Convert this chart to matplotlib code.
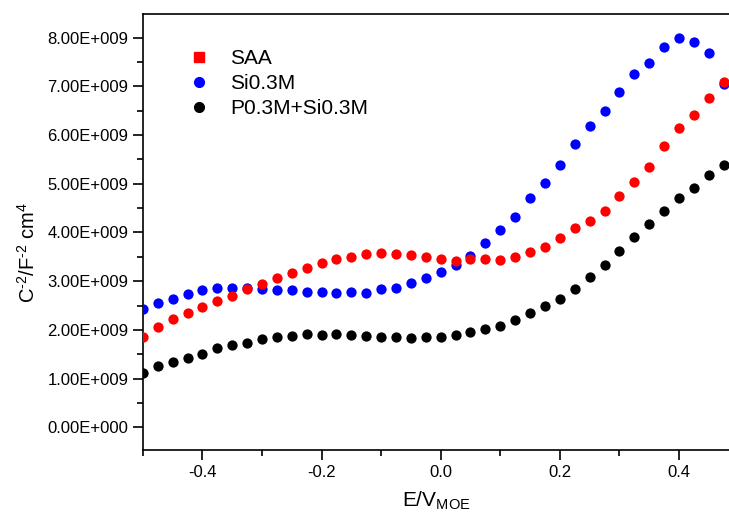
import numpy as n
import matplotlib
matplotlib.use('Agg')
import matplotlib.pyplot as plt
from matplotlib.lines import Line2D
from matplotlib.ticker import MultipleLocator, FuncFormatter

plt.rcParams['font.family'] = ['Liberation Sans', 'DejaVu Sans']
plt.rcParams['mathtext.default'] = 'regular'

#### data ###############################
E = [-0.5, -0.475, -0.45, -0.425, -0.4, -0.375, -0.35, -0.325, -0.3, -0.275,
     -0.25, -0.225, -0.2, -0.175, -0.15, -0.125, -0.1, -0.075, -0.05, -0.025,
     0.0, 0.025, 0.05, 0.075, 0.1, 0.125, 0.15, 0.175, 0.2, 0.225,
     0.25, 0.275, 0.3, 0.325, 0.35, 0.375, 0.4, 0.425, 0.45, 0.475]

# C^-2 values in units of 1e9
saa = [1.86, 2.06, 2.22, 2.34, 2.46, 2.60, 2.69, 2.83, 2.94, 3.06,
       3.16, 3.28, 3.37, 3.45, 3.50, 3.55, 3.57, 3.56, 3.54, 3.49,
       3.46, 3.42, 3.45, 3.46, 3.44, 3.50, 3.59, 3.70, 3.88, 4.09,
       4.23, 4.44, 4.74, 5.03, 5.34, 5.78, 6.14, 6.41, 6.76, 7.09]

si03 = [2.43, 2.56, 2.64, 2.74, 2.81, 2.87, 2.87, 2.85, 2.84, 2.81,
        2.81, 2.78, 2.78, 2.75, 2.78, 2.76, 2.83, 2.85, 2.97, 3.06,
        3.19, 3.33, 3.52, 3.78, 4.05, 4.31, 4.70, 5.01, 5.39, 5.82,
        6.18, 6.50, 6.89, 7.25, 7.48, 7.81, 7.99, 7.92, 7.69, 7.06]

p03_si03 = [1.12, 1.26, 1.33, 1.43, 1.51, 1.63, 1.69, 1.73, 1.82, 1.85,
            1.88, 1.91, 1.90, 1.91, 1.89, 1.87, 1.86, 1.85, 1.84, 1.85,
            1.85, 1.89, 1.95, 2.02, 2.08, 2.21, 2.34, 2.48, 2.63, 2.83,
            3.09, 3.33, 3.61, 3.90, 4.18, 4.44, 4.70, 4.91, 5.18, 5.38]

labels = ['SAA', 'Si0.3M', 'P0.3M+Si0.3M']

E = n.array(E)
scale = 1e9

fig = plt.figure(figsize=(7.29, 5.15), dpi=100)
ax = fig.add_axes([0.196, 0.126, 0.804, 0.847])

ms = 7.4
ax.plot(E, n.array(p03_si03) * scale, 'o', color='black', ms=ms, mec='none', zorder=3)
ax.plot(E, n.array(si03) * scale, 'o', color='#0000ff', ms=ms, mec='none', zorder=4)
ax.plot(E, n.array(saa) * scale, 'o', color='#ff0000', ms=ms, mec='none', zorder=5)

ax.set_xlim(-0.5, 0.484)
ax.set_ylim(-0.47e9, 8.49e9)

#axes styling
ax.spines['right'].set_visible(False)
for s in ['left', 'top', 'bottom']:
    ax.spines[s].set_linewidth(1.2)

ax.xaxis.set_major_locator(MultipleLocator(0.2))
ax.xaxis.set_minor_locator(MultipleLocator(0.1))
ax.yaxis.set_major_locator(MultipleLocator(1e9))
ax.yaxis.set_minor_locator(MultipleLocator(0.5e9))
ax.tick_params(which='major', direction='out', length=7, width=1.2, labelsize=12)
ax.tick_params(which='minor', direction='out', length=4, width=1.2)
ax.tick_params(top=False, right=False, which='both')
ax.xaxis.set_major_formatter(FuncFormatter(lambda v, p: '%.1f' % v))


def sci_fmt(v, p):
    mant = v / scale
    if abs(mant) < 1e-9:
        return '0.00E+000'
    return '%.2fE+009' % mant


ax.yaxis.set_major_formatter(FuncFormatter(sci_fmt))

ax.set_xlabel('E/V$_{MOE}$', fontsize=15, labelpad=7)
ax.set_ylabel('C$^{\u2010 2}$/F$^{\u2010 2}$ cm$^{4}$', fontsize=14.5)
ax.yaxis.set_label_coords(-0.178, 0.454)

#legend with proxy handles
handles = [Line2D([], [], marker='s', ls='none', color='#ff0000', ms=6.5),
           Line2D([], [], marker='o', ls='none', color='#0000ff', ms=7),
           Line2D([], [], marker='o', ls='none', color='black', ms=7)]
ax.legend(handles, labels, loc='upper left', bbox_to_anchor=(0.046, 0.962),
          frameon=False, fontsize=15, handlelength=1.0, handletextpad=1.0,
          labelspacing=0.29)

fig.savefig('out.png', dpi=100)
